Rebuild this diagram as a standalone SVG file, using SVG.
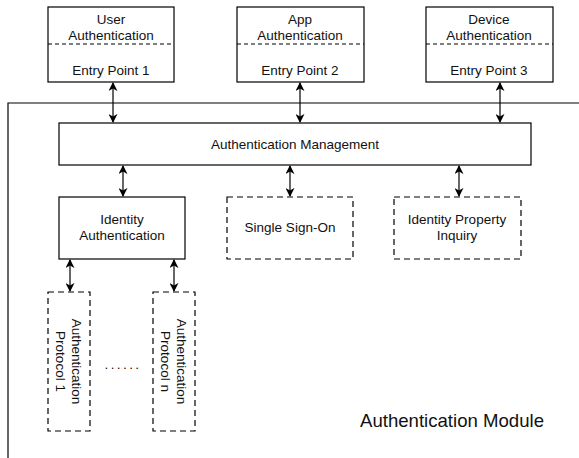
<svg xmlns="http://www.w3.org/2000/svg" width="579" height="458" viewBox="0 0 579 458">
  <style>
    .box { fill: #fff; stroke: #000; stroke-width: 1.2; }
    .dbox { fill: #fff; stroke: #000; stroke-width: 1.2; stroke-dasharray: 6 4; }
    .sep { stroke: #000; stroke-width: 1.2; stroke-dasharray: 4 3; fill: none; }
    .lbl { font-family: "Liberation Sans", Arial, sans-serif; font-size: 13.5px; fill: #111; text-anchor: middle; }
    .conn { stroke: #000; stroke-width: 1.2; fill: none; marker-start: url(#ah); marker-end: url(#ah); }
    .frame { stroke: #000; stroke-width: 1.2; fill: none; }
  </style>
  <defs>
    <marker id="ah" viewBox="0 0 10 10" refX="9" refY="5" markerWidth="9" markerHeight="9" markerUnits="userSpaceOnUse" orient="auto-start-reverse">
      <path d="M0,0 L10,5 L0,10 L3,5 Z" fill="#000"/>
    </marker>
  </defs>
  <rect width="579" height="458" fill="#fff"/>

  <!-- module boundary -->
  <g id="module">
    <path class="frame" d="M8,458 V103 H579"/>
    <text class="lbl" x="452" y="427" style="font-size:18.6px">Authentication Module</text>
  </g>

  <!-- entry points -->
  <g id="user-auth">
    <rect class="box" x="48" y="7" width="126" height="75"/>
    <line class="sep" x1="48" y1="44" x2="174" y2="44"/>
    <text class="lbl" x="111" y="24">User</text>
    <text class="lbl" x="111" y="40">Authentication</text>
    <text class="lbl" x="111" y="75">Entry Point 1</text>
  </g>
  <g id="app-auth">
    <rect class="box" x="237" y="7" width="127" height="75"/>
    <line class="sep" x1="237" y1="44" x2="364" y2="44"/>
    <text class="lbl" x="300" y="24">App</text>
    <text class="lbl" x="300" y="40">Authentication</text>
    <text class="lbl" x="300" y="75">Entry Point 2</text>
  </g>
  <g id="device-auth">
    <rect class="box" x="426" y="7" width="127" height="75"/>
    <line class="sep" x1="426" y1="44" x2="553" y2="44"/>
    <text class="lbl" x="489" y="24">Device</text>
    <text class="lbl" x="489" y="40">Authentication</text>
    <text class="lbl" x="489" y="75">Entry Point 3</text>
  </g>

  <!-- management layer -->
  <g id="auth-management">
    <rect class="box" x="59" y="123" width="472" height="42"/>
    <text class="lbl" x="295" y="149">Authentication Management</text>
  </g>

  <g id="identity-auth">
    <rect class="box" x="59" y="197" width="126" height="62"/>
    <text class="lbl" x="122" y="224">Identity</text>
    <text class="lbl" x="122" y="240">Authentication</text>
  </g>
  <g id="sso">
    <rect class="dbox" x="227" y="197" width="126" height="62"/>
    <text class="lbl" x="290" y="232">Single Sign-On</text>
  </g>
  <g id="property-inquiry">
    <rect class="dbox" x="394" y="197" width="127" height="62"/>
    <text class="lbl" x="457" y="224">Identity Property</text>
    <text class="lbl" x="457" y="240">Inquiry</text>
  </g>

  <!-- protocols -->
  <g id="protocol-1">
    <rect class="dbox" x="48" y="292" width="42" height="139"/>
    <g transform="translate(69,361.5) rotate(90)">
      <text class="lbl" x="0" y="-3">Authentication</text>
      <text class="lbl" x="0" y="13">Protocol 1</text>
    </g>
  </g>
  <g id="protocol-n">
    <rect class="dbox" x="153" y="292" width="42" height="139"/>
    <g transform="translate(174,361.5) rotate(90)">
      <text class="lbl" x="0" y="-3">Authentication</text>
      <text class="lbl" x="0" y="13">Protocol n</text>
    </g>
  </g>
  <g id="ellipsis">
    <text class="lbl" x="123" y="369" style="letter-spacing:2.4px">......</text>
  </g>

  <!-- connectors -->
  <g id="connectors">
    <line class="conn" x1="113" y1="83" x2="113" y2="122"/>
    <line class="conn" x1="300" y1="83" x2="300" y2="122"/>
    <line class="conn" x1="500" y1="83" x2="500" y2="122"/>
    <line class="conn" x1="123" y1="166" x2="123" y2="196"/>
    <line class="conn" x1="290" y1="166" x2="290" y2="196"/>
    <line class="conn" x1="459" y1="166" x2="459" y2="196"/>
    <line class="conn" x1="70" y1="260" x2="70" y2="291"/>
    <line class="conn" x1="174" y1="260" x2="174" y2="291"/>
  </g>
</svg>
